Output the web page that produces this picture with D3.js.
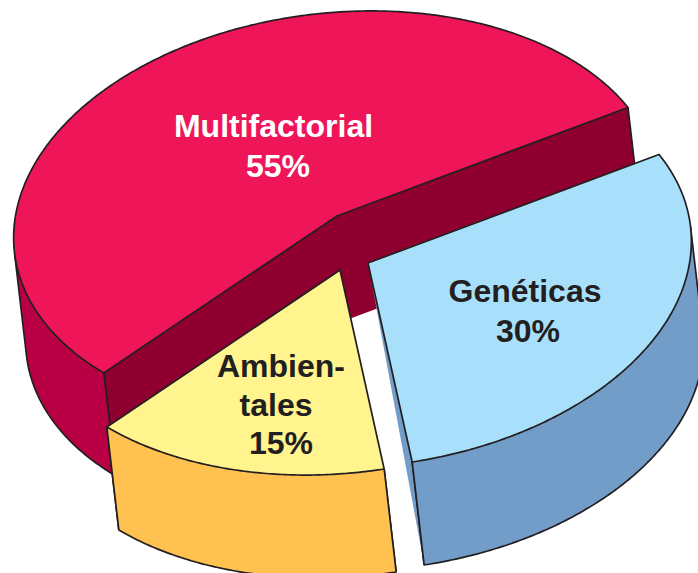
<!DOCTYPE html>
<html>
<head>
<meta charset="utf-8">
<script src="https://cdnjs.cloudflare.com/ajax/libs/d3/7.8.5/d3.min.js"></script>
<style>
  html, body { margin: 0; padding: 0; background: #fff; }
  svg { display: block; }
  text { font-family: "Liberation Sans", Arial, sans-serif; font-weight: bold; font-size: 32px; text-anchor: middle; }
</style>
</head>
<body>
<div id="my_dataviz"></div>
<script>
// data
var categories = ["Multifactorial", "Ambientales", "Genéticas"];
var values = [55, 15, 30];
var labelLines = [["Multifactorial", "55%"], ["Ambien-", "tales", "15%"], ["Genéticas", "30%"]];

// colours per slice
var topColor = ["#EE1558", "#FFF48E", "#A8E0FB"];
var outerColor = ["#BA0044", "#FFC250", "#729DC8"];
var innerColor = ["#8F0030", "#FFC250", "#729DC8"];
var textColor = ["#fff", "#231F20", "#231F20"];
var ink = "#231F20";

var width = 698, height = 573;

// the pie is a unit circle pushed through one affine map (the tilt)
var axisU = [291, -108.5], axisV = [-141, -174];
// extrusion of the side wall
var depth = [12, 103];
// exploded centre of each slice
var centers = [[337, 216], [340, 270], [368, 263]];
// how far the wall drops at the apex (genéticas comes to a point)
var apexDrop = [1, 1, 0];
// label x per line, first baseline, line spacing
var labelX = [[273.5, 278], [281, 276, 281], [525, 528]];
var labelY = [137, 377, 302];
var lineGap = [39.5, 38.5, 39.5];
var strokeW = 1.7;

var svg = d3.select("#my_dataviz")
  .append("svg")
    .attr("width", width)
    .attr("height", height);

var slices = d3.pie().sort(null).startAngle(0).endAngle(2 * Math.PI)(values);

function project(c, t) {
  return [c[0] + axisU[0] * Math.cos(t) + axisV[0] * Math.sin(t),
          c[1] + axisU[1] * Math.cos(t) + axisV[1] * Math.sin(t)];
}
function drop(p, k) {
  return [p[0] + depth[0] * k, p[1] + depth[1] * k];
}

// depth vector in unit circle coordinates, tells which part of the rim faces us
var det = axisU[0] * axisV[1] - axisU[1] * axisV[0];
var du = (depth[0] * axisV[1] - depth[1] * axisV[0]) / det;
var dv = (axisU[0] * depth[1] - axisU[1] * depth[0]) / det;

var line = d3.line();

function sweep(a0, a1) {
  var n = Math.ceil((a1 - a0) / 0.01);
  return d3.range(n + 1).map(function(i) { return a0 + (a1 - a0) * i / n; });
}

slices.forEach(function(s, i) {
  var c = centers[i];
  var g = svg.append("g").attr("class", "slice");
  var angles = sweep(s.startAngle, s.endAngle);

  // flat walls along the two radii, drawn as one shape so no seam shows
  var e0 = project(c, s.startAngle), e1 = project(c, s.endAngle);
  var cb = drop(c, apexDrop[i]);
  g.append("path")
    .attr("d", line([e0, c, e1, drop(e1, 1), cb, drop(e0, 1)]) + "Z")
    .style("fill", innerColor[i]);
  if (!apexDrop[i]) {
    // wall that comes to a point needs its lower edge
    g.append("path")
      .attr("d", line([c, drop(e1, 1)]))
      .style("fill", "none")
      .style("stroke", ink)
      .style("stroke-width", strokeW);
  }
  [e0, e1].forEach(function(e) {
    g.append("path")
      .attr("d", line([e, drop(e, 1)]))
      .style("fill", "none")
      .style("stroke", ink)
      .style("stroke-width", strokeW);
  });

  // curved outer wall, only where the rim faces us
  var visible = angles.filter(function(a) {
    return Math.cos(a) * du + Math.sin(a) * dv > 0;
  });
  if (visible.length) {
    var rimTop = visible.map(function(a) { return project(c, a); });
    var rimBottom = rimTop.map(function(p) { return drop(p, 1); });
    g.append("path")
      .attr("d", line(rimTop.concat(rimBottom.slice().reverse())) + "Z")
      .style("fill", outerColor[i]);
    g.append("path")
      .attr("d", line([rimTop[0]].concat(rimBottom).concat([rimTop[rimTop.length - 1]])))
      .style("fill", "none")
      .style("stroke", ink)
      .style("stroke-width", strokeW)
      .style("stroke-linejoin", "round");
  }

  // top face
  var face = [c].concat(angles.map(function(a) { return project(c, a); }));
  g.append("path")
    .attr("d", line(face) + "Z")
    .style("fill", topColor[i])
    .style("stroke", ink)
    .style("stroke-width", strokeW)
    .style("stroke-linejoin", "miter");
});

// labels go on last
labelLines.forEach(function(lines, i) {
  svg.append("text")
    .attr("class", "label")
    .style("fill", textColor[i])
    .selectAll("tspan")
    .data(lines)
    .enter()
    .append("tspan")
      .attr("x", function(d, j) { return labelX[i][j]; })
      .attr("y", function(d, j) { return labelY[i] + j * lineGap[i]; })
      .text(function(d) { return d; });
});
</script>
</body>
</html>
